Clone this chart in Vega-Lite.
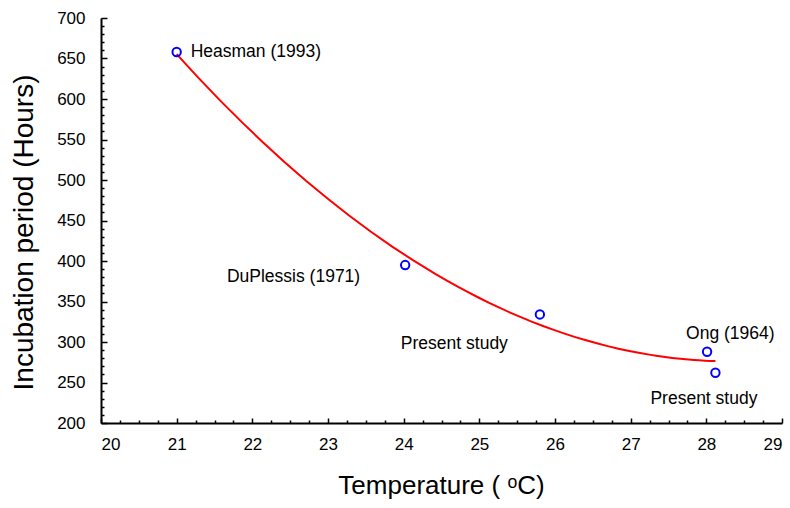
{
  "$schema": "https://vega.github.io/schema/vega-lite/v6.json",
  "width": 681,
  "height": 405,
  "autosize": {"type": "none"},
  "padding": {"left": 101, "top": 18, "right": 8, "bottom": 85},
  "background": "white",
  "config": {"view": {"stroke": null}, "font": "Liberation Sans"},
  "data": {
    "values": [
      {"temp": 21.0, "hours": 658, "source": "Heasman (1993)", "id": "a"},
      {"temp": 24.02, "hours": 395, "source": "DuPlessis (1971)", "id": "b"},
      {"temp": 25.8, "hours": 334, "source": "Present study", "id": "c"},
      {"temp": 28.01, "hours": 288, "source": "Ong (1964)", "id": "d"},
      {"temp": 28.12, "hours": 262, "source": "Present study", "id": "e"}
    ]
  },
  "resolve": {"axis": {"x": "independent", "y": "independent"}},
  "layer": [
    {
      "transform": [{"regression": "hours", "on": "temp", "method": "poly", "order": 2}],
      "mark": {"type": "line", "color": "#ff0000", "strokeWidth": 2},
      "encoding": {
        "x": {"field": "temp", "type": "quantitative", "scale": {"domain": [20, 29], "nice": false, "zero": false}, "axis": null},
        "y": {"field": "hours", "type": "quantitative", "scale": {"domain": [200, 700], "nice": false, "zero": false}, "axis": null}
      }
    },
    {
      "mark": {"type": "point", "shape": "circle", "filled": false, "color": "#0000ff", "strokeWidth": 2, "size": 70, "opacity": 1},
      "encoding": {
        "x": {"field": "temp", "type": "quantitative", "scale": {"domain": [20, 29], "nice": false, "zero": false},
          "axis": {"orient": "bottom", "values": [20, 21, 22, 23, 24, 25, 26, 27, 28, 29], "grid": false,
            "ticks": false, "domainColor": "black", "domainWidth": 2,
            "labelFontSize": 17, "labelColor": "black", "labelPadding": 13, "labelFont": "Liberation Sans",
            "title": "Temperature ( ᵒC)", "titleFontSize": 26, "titleFontWeight": "normal", "titleColor": "black",
            "titleFont": "Liberation Sans", "titleX": 340, "titleY": 70, "titleBaseline": "alphabetic", "titleAlign": "center"}},
        "y": {"field": "hours", "type": "quantitative", "scale": {"domain": [200, 700], "nice": false, "zero": false},
          "axis": {"orient": "left", "values": [200, 250, 300, 350, 400, 450, 500, 550, 600, 650, 700], "grid": false,
            "ticks": false, "domainColor": "black", "domainWidth": 2,
            "labelFontSize": 17, "labelColor": "black", "labelPadding": 16, "labelFont": "Liberation Sans",
            "title": "Incubation period (Hours)", "titleFontSize": 28, "titleFontWeight": "normal", "titleColor": "black",
            "titleFont": "Liberation Sans", "titleX": -69, "titleY": 214, "titleBaseline": "alphabetic", "titleAlign": "center", "titleAngle": -90}}
      }
    },
    {
      "mark": {"type": "point", "opacity": 0},
      "encoding": {
        "x": {"field": "temp", "type": "quantitative", "scale": {"domain": [20, 29], "nice": false, "zero": false},
          "axis": {"orient": "bottom", "values": [20.25, 20.5, 20.75, 21.25, 21.5, 21.75, 22.25, 22.5, 22.75, 23.25, 23.5, 23.75, 24.25, 24.5, 24.75, 25.25, 25.5, 25.75, 26.25, 26.5, 26.75, 27.25, 27.5, 27.75, 28.25, 28.5, 28.75],
            "grid": false, "labels": false, "title": null, "domain": false, "tickSize": -3, "tickWidth": 1.5, "tickColor": "black"}},
        "y": {"field": "hours", "type": "quantitative", "scale": {"domain": [200, 700], "nice": false, "zero": false},
          "axis": {"orient": "left", "values": [210, 220, 230, 240, 260, 270, 280, 290, 310, 320, 330, 340, 360, 370, 380, 390, 410, 420, 430, 440, 460, 470, 480, 490, 510, 520, 530, 540, 560, 570, 580, 590, 610, 620, 630, 640, 660, 670, 680, 690],
            "grid": false, "labels": false, "title": null, "domain": false, "tickSize": -3, "tickWidth": 1.5, "tickColor": "black"}}
      }
    },
    {
      "mark": {"type": "point", "opacity": 0},
      "encoding": {
        "x": {"field": "temp", "type": "quantitative", "scale": {"domain": [20, 29], "nice": false, "zero": false},
          "axis": {"orient": "bottom", "values": [20, 21, 22, 23, 24, 25, 26, 27, 28, 29],
            "grid": false, "labels": false, "title": null, "domain": false, "tickSize": -5, "tickWidth": 1.5, "tickColor": "black"}},
        "y": {"field": "hours", "type": "quantitative", "scale": {"domain": [200, 700], "nice": false, "zero": false},
          "axis": {"orient": "left", "values": [200, 250, 300, 350, 400, 450, 500, 550, 600, 650, 700],
            "grid": false, "labels": false, "title": null, "domain": false, "tickSize": -6, "tickWidth": 1.5, "tickColor": "black"}}
      }
    },
    {
      "transform": [{"filter": "datum.id == 'a'"}],
      "mark": {"type": "text", "align": "left", "baseline": "middle", "dx": 14, "dy": 0, "fontSize": 17.5, "font": "Liberation Sans", "color": "black"},
      "encoding": {
        "x": {"field": "temp", "type": "quantitative", "axis": null},
        "y": {"field": "hours", "type": "quantitative", "axis": null},
        "text": {"field": "source"}
      }
    },
    {
      "transform": [{"filter": "datum.id == 'b'"}],
      "mark": {"type": "text", "align": "right", "baseline": "middle", "dx": -45, "dy": 12, "fontSize": 17.5, "font": "Liberation Sans", "color": "black"},
      "encoding": {
        "x": {"field": "temp", "type": "quantitative", "axis": null},
        "y": {"field": "hours", "type": "quantitative", "axis": null},
        "text": {"field": "source"}
      }
    },
    {
      "transform": [{"filter": "datum.id == 'c'"}],
      "mark": {"type": "text", "align": "right", "baseline": "middle", "dx": -32, "dy": 30, "fontSize": 17.5, "font": "Liberation Sans", "color": "black"},
      "encoding": {
        "x": {"field": "temp", "type": "quantitative", "axis": null},
        "y": {"field": "hours", "type": "quantitative", "axis": null},
        "text": {"field": "source"}
      }
    },
    {
      "transform": [{"filter": "datum.id == 'd'"}],
      "mark": {"type": "text", "align": "left", "baseline": "middle", "dx": -21, "dy": -18, "fontSize": 17.5, "font": "Liberation Sans", "color": "black"},
      "encoding": {
        "x": {"field": "temp", "type": "quantitative", "axis": null},
        "y": {"field": "hours", "type": "quantitative", "axis": null},
        "text": {"field": "source"}
      }
    },
    {
      "transform": [{"filter": "datum.id == 'e'"}],
      "mark": {"type": "text", "align": "left", "baseline": "middle", "dx": -65, "dy": 26, "fontSize": 17.5, "font": "Liberation Sans", "color": "black"},
      "encoding": {
        "x": {"field": "temp", "type": "quantitative", "axis": null},
        "y": {"field": "hours", "type": "quantitative", "axis": null},
        "text": {"field": "source"}
      }
    }
  ]
}
